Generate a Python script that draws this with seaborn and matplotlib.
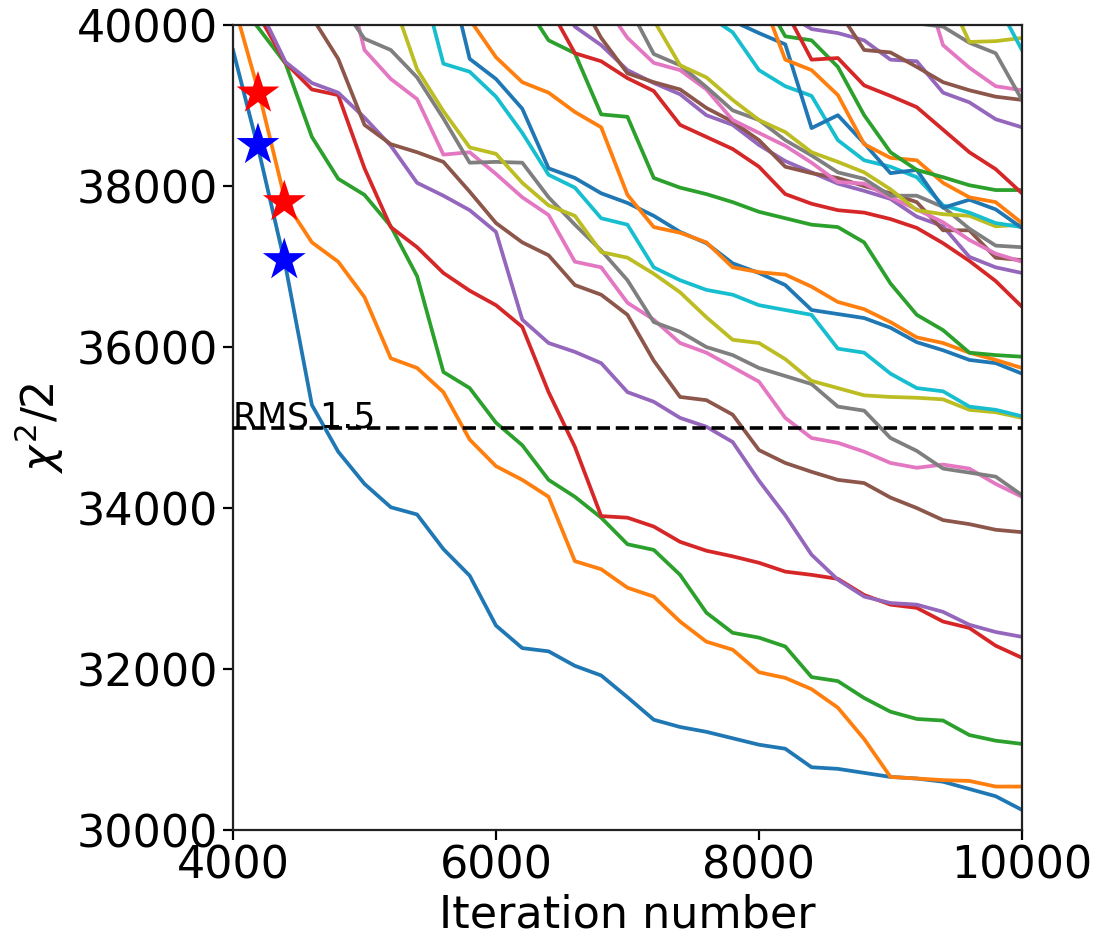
import numpy as np
import pandas as pd
import matplotlib
matplotlib.use("Agg")
import matplotlib.pyplot as plt
import seaborn as sns

# ---------------- data ----------------
iterations = [4000, 4200, 4400, 4600, 4800, 5000, 5200, 5400, 5600, 5800,
              6000, 6200, 6400, 6600, 6800, 7000, 7200, 7400, 7600, 7800,
              8000, 8200, 8400, 8600, 8800, 9000, 9200, 9400, 9600, 9800, 10000]
N = None

run_01 = [39690, 38410, 37000, 35280, 34700, 34300, 34010, 33920, 33490, 33160, 32540, 32260, 32220, 32040, 31920, 31650,
          31370, 31280, 31220, 31140, 31060, 31010, 30780, 30760, 30710, 30660, 30640, 30600, 30510, 30420, 30250]
run_02 = [40300, 39140, 37800, 37300, 37060, 36620, 35860, 35740, 35440, 34850, 34520, 34350, 34140, 33340, 33240, 33010,
          32900, 32590, 32340, 32240, 31960, 31890, 31750, 31520, 31130, 30660, 30640, 30620, 30610, 30540, 30540]
run_03 = [40360, 39950, 39520, 38610, 38090, 37890, 37500, 36880, 35690, 35490, 35060, 34780, 34350, 34140, 33880, 33550,
          33480, 33170, 32700, 32450, 32390, 32280, 31900, 31850, 31640, 31470, 31380, 31360, 31180, 31110, 31070]
run_04 = [40700, 40110, 39530, 39200, 39130, 38220, 37490, 37240, 36920, 36700, 36520, 36250, 35440, 34760, 33900, 33880,
          33770, 33580, 33470, 33400, 33320, 33210, 33170, 33120, 32920, 32800, 32760, 32590, 32510, 32290, 32140]
run_05 = [40870, 40210, 39540, 39280, 39160, 38850, 38500, 38040, 37880, 37700, 37430, 36340, 36050, 35940, 35800, 35440,
          35320, 35120, 35010, 34820, 34340, 33910, 33420, 33110, 32900, 32820, 32800, 32710, 32550, 32460, 32400]
run_06 = [N, N, 41000, 40100, 39580, 38760, 38520, 38420, 38300, 37930, 37540, 37300, 37140, 36770, 36650, 36400,
          35830, 35380, 35340, 35160, 34720, 34560, 34450, 34350, 34310, 34130, 34000, 33850, 33800, 33730, 33700]
run_07 = [N, N, N, N, 41000, 39690, 39330, 39080, 38390, 38420, 38150, 37860, 37640, 37060, 36990, 36550,
          36340, 36050, 35930, 35750, 35570, 35120, 34870, 34810, 34700, 34560, 34500, 34540, 34490, 34300, 34140]
run_08 = [N, N, N, N, 40300, 39830, 39690, 39350, 38840, 38290, 38300, 38290, 37860, 37520, 37200, 36830,
          36310, 36190, 36000, 35900, 35740, 35640, 35540, 35260, 35210, 34870, 34710, 34490, 34440, 34390, 34160]
run_09 = [N, N, N, N, N, 41300, 40390, 39450, 38930, 38480, 38400, 38040, 37760, 37630, 37180, 37110,
          36910, 36680, 36370, 36090, 36050, 35850, 35580, 35490, 35400, 35380, 35370, 35350, 35220, 35190, 35120]
run_10 = [N] * 7 + [40770, 39520, 39420, 39110, 38660, 38140, 37980, 37600, 37520, 36990, 36830, 36710, 36650, 36520,
                    36460, 36400, 35980, 35930, 35670, 35490, 35450, 35260, 35220, 35140]
run_11 = [N] * 8 + [40930, 39580, 39330, 38960, 38220, 38100, 37910, 37790, 37630, 37430, 37290, 37040, 36920, 36770,
                    36460, 36410, 36360, 36240, 36060, 35960, 35840, 35800, 35670]
run_12 = [N] * 8 + [41000, 40070, 39600, 39290, 39160, 38920, 38730, 37890, 37490, 37420, 37300, 36990, 36930, 36900,
                    36750, 36560, 36470, 36310, 36120, 36050, 35930, 35840, 35740]
run_13 = [N] * 10 + [40800, 40310, 39810, 39650, 38890, 38860, 38100, 37980, 37900, 37800, 37680, 37600, 37520, 37490,
                     37300, 36790, 36400, 36210, 35930, 35900, 35880]
run_14 = [N] * 11 + [40870, 40240, 39650, 39550, 39340, 39180, 38760, 38610, 38460, 38240, 37900, 37780, 37700, 37670,
                     37590, 37480, 37290, 37070, 36820, 36500]
run_15 = [N] * 12 + [40600, 39980, 39750, 39440, 39280, 39140, 38880, 38760, 38510, 38310, 38170, 38030, 37940, 37840,
                     37620, 37500, 37120, 36990, 36920]
run_16 = [N] * 12 + [41000, 40430, 39840, 39400, 39290, 39200, 38970, 38800, 38570, 38240, 38160, 38100, 38000, 37910,
                     37800, 37450, 37450, 37110, 37080]
run_17 = [N] * 13 + [40700, 40310, 39840, 39530, 39440, 39200, 38820, 38660, 38500, 38290, 38050, 38030, 37860, 37710,
                     37550, 37330, 37160, 37060]
run_18 = [N] * 14 + [40800, 40260, 39640, 39500, 39230, 38940, 38820, 38570, 38380, 38170, 38090, 37880, 37880, 37740,
                     37470, 37260, 37240]
run_19 = [N] * 15 + [41000, 40060, 39500, 39350, 39070, 38820, 38670, 38420, 38300, 38170, 37960, 37700, 37650, 37630,
                     37500, 37520]
run_20 = [N] * 17 + [40700, 40130, 39910, 39440, 39240, 39120, 38570, 38320, 38240, 38110, 37760, 37670, 37540, 37490]
run_21 = [N] * 17 + [40800, 40300, 40050, 39900, 39760, 38720, 38880, 38530, 38160, 38200, 37730, 37830, 37710, 37480]
run_22 = [N] * 19 + [41200, 40430, 39570, 39440, 39130, 38520, 38350, 38320, 38040, 37860, 37800, 37540]
run_23 = [N] * 19 + [41200, 40430, 39860, 39810, 39480, 38880, 38420, 38200, 38110, 38010, 37950, 37950]
run_24 = [N] * 20 + [41200, 40190, 39570, 39590, 39250, 39120, 38980, 38700, 38420, 38210, 37910]
run_25 = [N] * 20 + [40900, 40150, 39950, 39900, 39810, 39570, 39550, 39160, 39040, 38830, 38730]
run_26 = [N] * 22 + [41000, 40190, 39690, 39660, 39480, 39290, 39190, 39110, 39070]
run_27 = [N] * 26 + [40800, 39750, 39470, 39240, 39190]
run_28 = [N] * 25 + [40500, 40020, 39980, 39780, 39650, 39070]
run_29 = [N] * 27 + [40500, 39790, 39800, 39840]
run_30 = [N] * 29 + [40300, 39690]

runs = [run_01, run_02, run_03, run_04, run_05, run_06, run_07, run_08, run_09, run_10,
        run_11, run_12, run_13, run_14, run_15, run_16, run_17, run_18, run_19, run_20,
        run_21, run_22, run_23, run_24, run_25, run_26, run_27, run_28, run_29, run_30]

star_red_x = [4190, 4390]
star_red_y = [39150, 37800]
star_blue_x = [4190, 4390]
star_blue_y = [38510, 37080]

rms_level = 35000
rms_label = "RMS 1.5"

x_ticks = [4000, 6000, 8000, 10000]
y_ticks = [30000, 32000, 34000, 36000, 38000, 40000]

# ---------------- build frame ----------------
rows = []
run_names = []
for i, r in enumerate(runs):
    name = f"run{i + 1:02d}"
    run_names.append(name)
    for it, v in zip(iterations, r):
        if v is not None:
            rows.append((name, it, v))
df = pd.DataFrame(rows, columns=["run", "iteration", "chi2"])

palette = sns.color_palette("tab10", 10) * 3

# ---------------- plot ----------------
plt.rcParams["font.family"] = ["DejaVu Sans"]
fig, ax = plt.subplots(figsize=(10.97, 9.38), dpi=100)
fig.subplots_adjust(left=0.2124, right=0.9316, top=0.9733, bottom=0.1151)

sns.lineplot(data=df, x="iteration", y="chi2", hue="run", hue_order=run_names,
             palette=palette, legend=False, linewidth=2.7, estimator=None,
             sort=True, ax=ax)

ax.axhline(rms_level, color="black", linestyle="--", linewidth=2.6, zorder=3)
ax.text(4000, rms_level, rms_label, fontsize=25, va="baseline", ha="left", color="black", zorder=4)

sns.scatterplot(x=star_red_x, y=star_red_y, marker="*", s=1050, color="red",
                edgecolor="none", linewidth=0, ax=ax, zorder=5)
sns.scatterplot(x=star_blue_x, y=star_blue_y, marker="*", s=1050, color="blue",
                edgecolor="none", linewidth=0, ax=ax, zorder=5)

ax.set_xlim(4000, 10000)
ax.set_ylim(30000, 40000)
ax.set_xticks(x_ticks)
ax.set_yticks(y_ticks)
ax.tick_params(axis="both", labelsize=32, length=7, width=1.6)
for s in ax.spines.values():
    s.set_linewidth(1.6)
    s.set_color("#222222")
ax.set_xlabel("Iteration number", fontsize=32, labelpad=4)
ax.set_ylabel(r"$\chi^2/2$", fontsize=32, labelpad=8)

fig.savefig("out.png", dpi=100)
